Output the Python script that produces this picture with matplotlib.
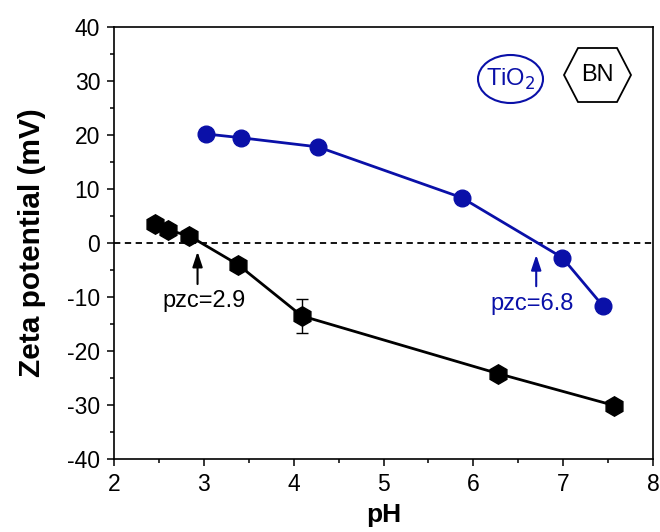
import matplotlib
matplotlib.use("Agg")
import matplotlib.pyplot as plt
from matplotlib.patches import Ellipse, Polygon
from matplotlib.ticker import MultipleLocator

plt.rcParams['font.family'] = ['Liberation Sans', 'DejaVu Sans']
plt.rcParams['axes.unicode_minus'] = False

# Data
ph_tio2 = [3.02, 3.41, 4.27, 5.87, 6.99, 7.44]
zeta_tio2 = [20.2, 19.5, 17.8, 8.4, -2.7, -11.6]

ph_bn = [2.46, 2.60, 2.84, 3.38, 4.09, 6.28, 7.57]
zeta_bn = [3.6, 2.4, 1.3, -4.0, -13.5, -24.2, -30.1]
err_bn = [0, 0, 0, 0, 3.1, 0, 0]

blue = '#0a10a8'

fig = plt.figure(figsize=(6.6, 5.32), dpi=100)
AX_L, AX_R, AX_T, AX_B = 114, 653, 27, 459
ax = fig.add_axes([AX_L / 660, 1 - AX_B / 532, (AX_R - AX_L) / 660, (AX_B - AX_T) / 532])

ax.axhline(0, color='black', lw=1.3, ls=(0, (3.5, 2.5)), zorder=1)

ax.errorbar(ph_bn, zeta_bn, yerr=err_bn, color='black', lw=2, marker='h',
            ms=14, mfc='black', mec='black', capsize=4, elinewidth=1, capthick=1, zorder=3)
ax.plot(ph_tio2, zeta_tio2, color=blue, lw=2, marker='o', ms=12,
        mfc=blue, mec=blue, zorder=3)

# pzc annotations
arrow_style = '-|>,head_length=0.9,head_width=0.3'
ax.annotate('', xy=(2.93, -1.6), xytext=(2.93, -7.6),
            arrowprops=dict(arrowstyle=arrow_style, color='black', lw=1.5,
                            shrinkA=0, shrinkB=0))
ax.text(3.0, -10.8, 'pzc=2.9', fontsize=17, ha='center', va='center', color='black')
ax.annotate('', xy=(6.70, -2.2), xytext=(6.70, -8.0),
            arrowprops=dict(arrowstyle=arrow_style, color=blue, lw=1.5,
                            shrinkA=0, shrinkB=0))
ax.text(6.65, -11.3, 'pzc=6.8', fontsize=17, ha='center', va='center', color=blue)

# Inset symbols
W = AX_R - AX_L
H = AX_B - AX_T
def fx(px):
    return (px - AX_L) / W
def fy(py):
    return (AX_B - py) / H

ax.add_patch(Ellipse((fx(510.5), fy(79)), 65 / W, 48 / H, transform=ax.transAxes,
                     fill=False, ec=blue, lw=1.5))
ax.text(fx(511), fy(79), 'TiO$_2$', transform=ax.transAxes, fontsize=17,
        ha='center', va='center', color=blue)
hex_px = [(564, 75), (578, 48), (617, 48), (631, 75), (617, 102), (578, 102)]
ax.add_patch(Polygon([(fx(x), fy(y)) for x, y in hex_px], closed=True,
                     transform=ax.transAxes, fill=False, ec='black', lw=1.3))
ax.text(fx(597.5), fy(75), 'BN', transform=ax.transAxes, fontsize=17,
        ha='center', va='center', color='black')

ax.set_xlim(2, 8)
ax.set_ylim(-40, 40)
ax.xaxis.set_major_locator(MultipleLocator(1))
ax.xaxis.set_minor_locator(MultipleLocator(0.5))
ax.yaxis.set_major_locator(MultipleLocator(10))
ax.yaxis.set_minor_locator(MultipleLocator(5))
ax.tick_params(which='both', direction='out', top=False, right=False, labelsize=16.5, width=1.1)
ax.tick_params(which='major', length=5, pad=5)
ax.tick_params(which='minor', length=3)
for s in ax.spines.values():
    s.set_linewidth(1.2)

ax.set_xlabel('pH', fontsize=19, fontweight='bold', labelpad=5)
ax.set_ylabel('Zeta potential (mV)', fontsize=21.5, fontweight='bold')
ax.yaxis.set_label_coords(-0.127, 0.5)

fig.savefig('out.png', dpi=100)
